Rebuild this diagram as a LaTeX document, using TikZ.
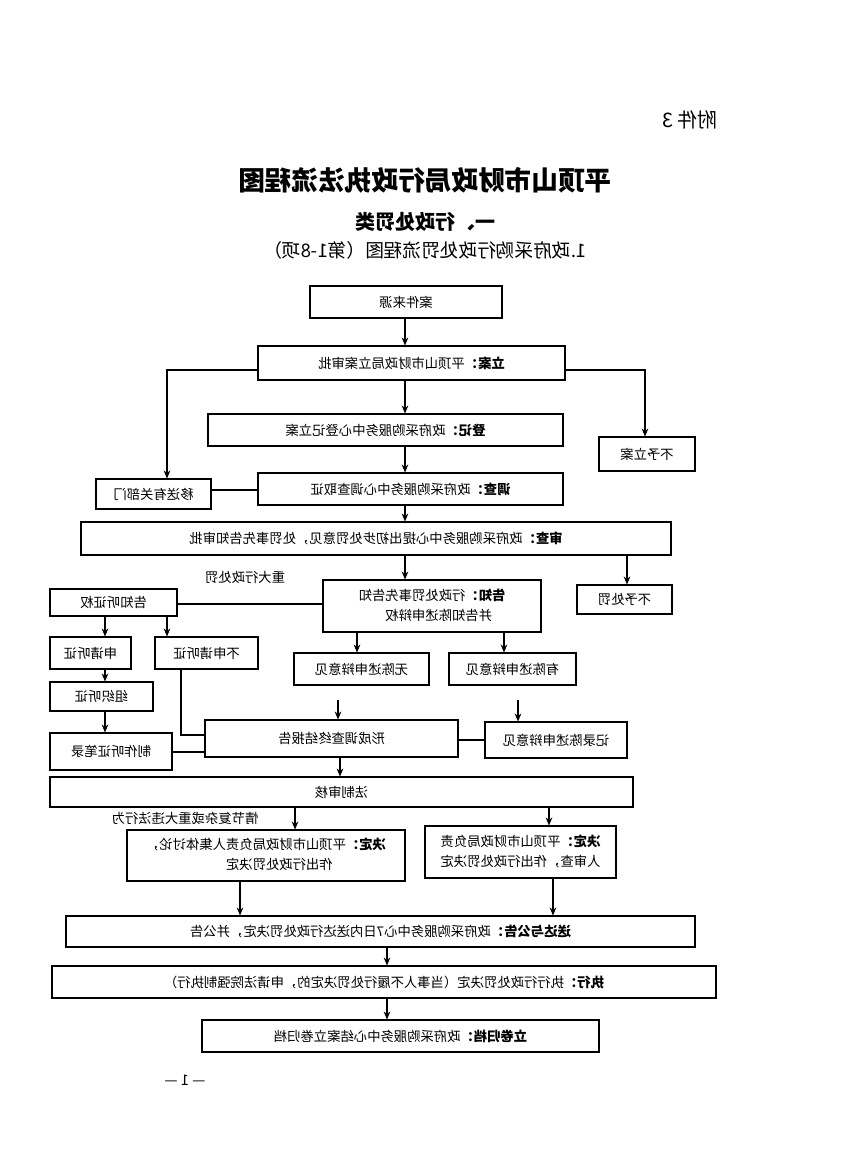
\documentclass[tikz,border=0pt]{standalone}
\usepackage{fontspec}
\usepackage{graphicx}
\usetikzlibrary{arrows.meta}
\setmainfont{Noto Sans CJK SC}
\newcommand\mr[1]{\reflectbox{#1}}
\newcommand\mrt[2]{\reflectbox{\begin{tabular}{@{}l@{}}#1\\#2\end{tabular}}}
\begin{document}
\begin{tikzpicture}[x=0.75pt,y=-0.75pt,
  box/.style={draw,line width=0.8pt,inner sep=0pt,font=\fontsize{10}{15}\selectfont},
  lbl/.style={font=\fontsize{10}{12}\selectfont,inner sep=0pt},
  ar/.style={-{Stealth[length=6pt,width=5pt]},line width=0.8pt},
  ln/.style={line width=0.8pt}]
\useasboundingbox (0,0) rectangle (850,1150);
\newcommand\bx[6]{\node[box,minimum width=#4*0.75pt-#2*0.75pt,minimum height=#5*0.75pt-#3*0.75pt] (#1) at ({(#2+#4)/2},{(#3+#5)/2}) {#6};}
\node[lbl,font=\fontsize{15}{18}\selectfont] (fj) at (690,120) {\mr{附件\,3}};
\node[lbl,font=\fontsize{20}{24}\selectfont\bfseries] (tt) at (425,180) {\mr{平顶山市财政局行政执法流程图}};
\node[lbl,font=\fontsize{15}{18}\selectfont\bfseries] (t2) at (425,222) {\mr{一、行政处罚类}};
\node[lbl,font=\fontsize{14}{18}\selectfont] (t3) at (425,250) {\mr{1.政府采购行政处罚流程图（第1-8项）}};
\bx{ly}{310}{286}{502}{318}{\mr{案件来源}}
\bx{la}{258}{346}{565}{380}{\mr{\textbf{立案：}平顶山市财政局立案审批}}
\bx{dj}{208}{414}{563}{446}{\mr{\textbf{登记：}政府采购服务中心登记立案}}
\bx{bylA}{599}{437}{695}{471}{\mr{不予立案}}
\bx{dc}{258}{473}{563}{505}{\mr{\textbf{调查：}政府采购服务中心调查取证}}
\bx{ys}{96}{479}{211}{509}{\mr{移送有关部门}}
\bx{sc}{81}{522}{671}{555}{\mr{\textbf{审查：}政府采购服务中心提出初步处罚意见，处罚事先告知审批}}
\bx{bycf}{577}{585}{672}{614}{\mr{不予处罚}}
\node[lbl] (zd) at (245,577) {\mr{重大行政处罚}};
\bx{gz}{323}{580}{541}{632}{\mrt{\textbf{告知：}行政处罚事先告知}{\quad 并告知陈述申辩权}}
\bx{tzq}{50}{589}{177}{616}{\mr{告知听证权}}
\bx{sqtz}{50}{637}{131}{669}{\mr{申请听证}}
\bx{bsq}{155}{637}{258}{669}{\mr{不申请听证}}
\bx{wcs}{294}{653}{429}{685}{\mr{无陈述申辩意见}}
\bx{ycs}{449}{653}{576}{685}{\mr{有陈述申辩意见}}
\bx{zz}{50}{682}{153}{711}{\mr{组织听证}}
\bx{zb}{50}{733}{172}{770}{\mr{制作听证笔录}}
\bx{xc}{205}{720}{458}{757}{\mr{形成调查终结报告}}
\bx{jl}{485}{722}{627}{758}{\mr{记录陈述申辩意见}}
\bx{fz}{50}{777}{633}{807}{\mr{法制审核}}
\node[lbl] (qj) at (185,818) {\mr{情节复杂或重大违法行为}};
\bx{jd1}{127}{830}{405}{881}{\mrt{\textbf{决定：}平顶山市财政局负责人集体讨论，}{\qquad\qquad 作出行政处罚决定}}
\bx{jd2}{425}{826}{616}{878}{\mrt{\textbf{决定：}平顶山市财政局负责}{人审查，作出行政处罚决定}}
\bx{sd}{66}{916}{695}{947}{\mr{\textbf{送达与公告：}政府采购服务中心7日内送达行政处罚决定，并公告}}
\bx{zx}{52}{966}{716}{998}{\mr{\textbf{执行：}执行行政处罚决定（当事人不履行处罚决定的，申请法院强制执行）}}
\bx{gd}{202}{1020}{599}{1052}{\mr{\textbf{立卷归档：}政府采购服务中心结案立卷归档}}
\node[lbl,font=\fontsize{11}{12}\selectfont] (pg) at (185,1080) {\mr{— 1 —}};
% connectors
\draw[ar] (ly.south -| 405,0) -- (la.north -| 405,0);
\draw[ar] (la.south -| 405,0) -- (dj.north -| 405,0);
\draw[ar] (dj.south -| 405,0) -- (dc.north -| 405,0);
\draw[ar] (dc.south -| 405,0) -- (sc.north -| 405,0);
\draw[ar] (sc.south -| 405,0) -- (gz.north -| 405,0);
\draw[ar] (la.west |- 0,370) -| (ys.north -| 167,0);
\draw[ar] (la.east |- 0,370) -| (bylA.north -| 645,0);
\draw[ln] (dc.west |- 0,490) -- (ys.east |- 0,490);
\draw[ar] (sc.south -| 627,0) -- (bycf.north -| 627,0);
\draw[ln] (gz.west |- 0,604) -- (tzq.east |- 0,604);
\draw[ar] (tzq.south -| 105,0) -- (sqtz.north -| 105,0);
\draw[ar] (tzq.south -| 167,0) -- (bsq.north -| 167,0);
\draw[ar] (sqtz.south -| 105,0) -- (zz.north -| 105,0);
\draw[ar] (zz.south -| 105,0) -- (zb.north -| 105,0);
\draw[ar] (gz.south -| 357,0) -- (wcs.north -| 357,0);
\draw[ar] (gz.south -| 504,0) -- (ycs.north -| 504,0);
\draw[ar] (wcs.south -| 338,0) ++(0,14) -- (xc.north -| 338,0);
\draw[ar] (ycs.south -| 518,0) ++(0,14) -- (jl.north -| 518,0);
\draw[ln] (bsq.south -| 181,0) |- (xc.west |- 0,735);
\draw[ln] (zb.east |- 0,752) -- (xc.west |- 0,752);
\draw[ln] (jl.west |- 0,740) -- (xc.east |- 0,740);
\draw[ar] (xc.south -| 340,0) -- (fz.north -| 340,0);
\draw[ar] (fz.south -| 295,0) -- (jd1.north -| 295,0);
\draw[ar] (fz.south -| 549,0) -- (jd2.north -| 549,0);
\draw[ar] (jd1.south -| 240,0) -- (sd.north -| 240,0);
\draw[ar] (jd2.south -| 553,0) -- (sd.north -| 553,0);
\draw[ar] (sd.south -| 387,0) -- (zx.north -| 387,0);
\draw[ar] (zx.south -| 387,0) -- (gd.north -| 387,0);
\end{tikzpicture}
\end{document}
